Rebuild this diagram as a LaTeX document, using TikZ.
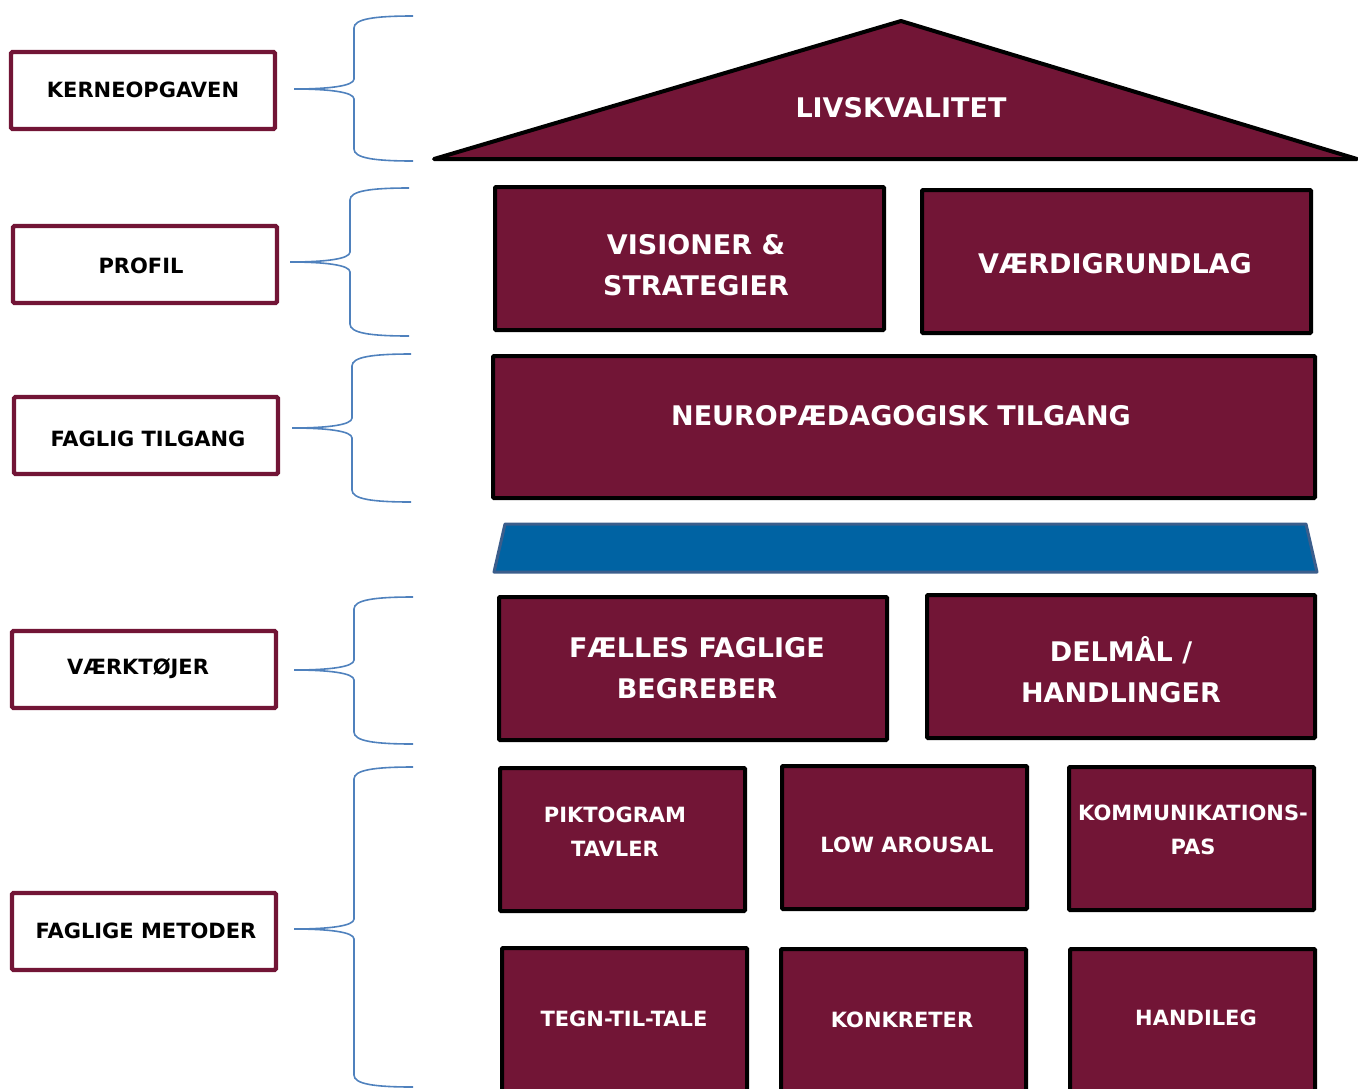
\documentclass[tikz,border=0pt]{standalone}
\usepackage{fontspec}
\setmainfont{DejaVu Sans}
\definecolor{maroon}{RGB}{114,21,54}
\definecolor{bluefill}{RGB}{0,99,163}
\definecolor{blueedge}{RGB}{59,94,140}
\definecolor{bracecol}{RGB}{79,129,189}
\newcommand{\mybrace}[5]{% tipx, tipy, vx, top, bottom ; right end x = vx+59
  \draw[bracepath] ({#3+59},#4) .. controls ({#3+20},#4) and (#3,{#4+3}) .. (#3,{#4+12})
    -- (#3,{#2-10}) .. controls (#3,{#2-3}) and ({#3-25},#2) .. (#1,#2)
    (#1,#2) .. controls ({#3-25},#2) and (#3,{#2+3}) .. (#3,{#2+10})
    -- (#3,{#5-12}) .. controls (#3,{#5-3}) and ({#3+20},#5) .. ({#3+59},#5);}
\tikzset{
  sidebox/.style={draw=maroon, line width=4.3pt, fill=white, rounded corners=1.5pt, inner sep=0pt},
  sidetxt/.style={font=\bfseries\fontsize{21}{25}\selectfont, text=black, inner sep=0pt},
  mbox/.style={draw=black, line width=4pt, fill=maroon, rounded corners=1pt, inner sep=0pt},
  bigtxt/.style={font=\bfseries\fontsize{27}{41}\selectfont, text=white, align=center, inner sep=0pt},
  smalltxt/.style={font=\bfseries\fontsize{21}{34}\selectfont, text=white, align=center, inner sep=0pt},
  bracepath/.style={draw=bracecol, line width=1.6pt}
}
\begin{document}
\begin{tikzpicture}[x=1pt,y=-1pt]
\useasboundingbox (0,0) rectangle (1358,1088);
\clip (0,0) rectangle (1358,1088);

% left side boxes
\node[sidebox, minimum width=264, minimum height=77] (kerne) at (143,90.5) {};
\node[sidetxt] (kerne-t) at (143,90) {KERNEOPGAVEN};
\node[sidebox, minimum width=264, minimum height=77] (profil) at (145,264.5) {};
\node[sidetxt] (profil-t) at (141,266) {PROFIL};
\node[sidebox, minimum width=264, minimum height=77] (faglig) at (146,435.5) {};
\node[sidetxt] (faglig-t) at (148,439) {FAGLIG TILGANG};
\node[sidebox, minimum width=264, minimum height=77] (vaerk) at (144,669.5) {};
\node[sidetxt] (vaerk-t) at (138,669) {VÆRKTØJER};
\node[sidebox, minimum width=264, minimum height=77] (metoder) at (144,931.5) {};
\node[sidetxt] (metoder-t) at (146,931) {FAGLIGE METODER};

% braces
\mybrace{294}{89}{354}{16}{161}
\mybrace{290}{262}{350}{188}{336}
\mybrace{292}{428}{352}{354}{502}
\mybrace{294}{670}{354}{597}{744}
\mybrace{294}{929}{354}{767}{1087}

% roof
\coordinate (apex) at (901,21);
\coordinate (roofL) at (434,159);
\coordinate (roofR) at (1357,159);
\filldraw[fill=maroon, draw=black, line width=4pt, line join=round] (roofL) -- (apex) -- (roofR) -- cycle;
\node[bigtxt] (roof) at (901,108) {LIVSKVALITET};

% profile boxes
\node[mbox, minimum width=389, minimum height=143] (vis) at (689.5,258.5) {};
\node[bigtxt] (vis-t) at (696,265.5) {VISIONER \&\\STRATEGIER};
\node[mbox, minimum width=389, minimum height=143] (vaerdi) at (1116.5,261.5) {};
\node[bigtxt] (vaerdi-t) at (1115,264) {VÆRDIGRUNDLAG};

% neuro
\node[mbox, minimum width=822, minimum height=142] (neuro) at (904,427) {};
\node[bigtxt] (neuro-t) at (901,416) {NEUROPÆDAGOGISK TILGANG};

% blue bar
\filldraw[fill=bluefill, draw=blueedge, line width=3pt, line join=round]
  (505,524) -- (1306,524) -- (1317,572) -- (494,572) -- cycle;

% tools
\node[mbox, minimum width=388, minimum height=143] (faelles) at (693,668.5) {};
\node[bigtxt] (faelles-t) at (697,668) {FÆLLES FAGLIGE\\BEGREBER};
\node[mbox, minimum width=388, minimum height=143] (delmaal) at (1121,666.5) {};
\node[bigtxt] (delmaal-t) at (1121,669.5) {DELMÅL /\\HANDLINGER};

% methods row 1
\node[mbox, minimum width=245, minimum height=143] (pikto) at (622.5,839.5) {};
\node[smalltxt] (pikto-t) at (615,832) {PIKTOGRAM\\TAVLER};
\node[mbox, minimum width=245, minimum height=143] (low) at (904.5,837.5) {};
\node[smalltxt] (low-t) at (907,845) {LOW AROUSAL};
\node[mbox, minimum width=245, minimum height=143] (komm) at (1191.5,838.5) {};
\node[smalltxt] (komm-t) at (1193,830) {KOMMUNIKATIONS-\\PAS};

% methods row 2
\node[mbox, minimum width=245, minimum height=160] (tegn) at (624.5,1028) {};
\node[smalltxt] (tegn-t) at (624,1019) {TEGN-TIL-TALE};
\node[mbox, minimum width=245, minimum height=160] (konk) at (903.5,1029) {};
\node[smalltxt] (konk-t) at (902,1020) {KONKRETER};
\node[mbox, minimum width=245, minimum height=160] (handi) at (1192.5,1029) {};
\node[smalltxt] (handi-t) at (1196,1018) {HANDILEG};
\end{tikzpicture}
\end{document}
